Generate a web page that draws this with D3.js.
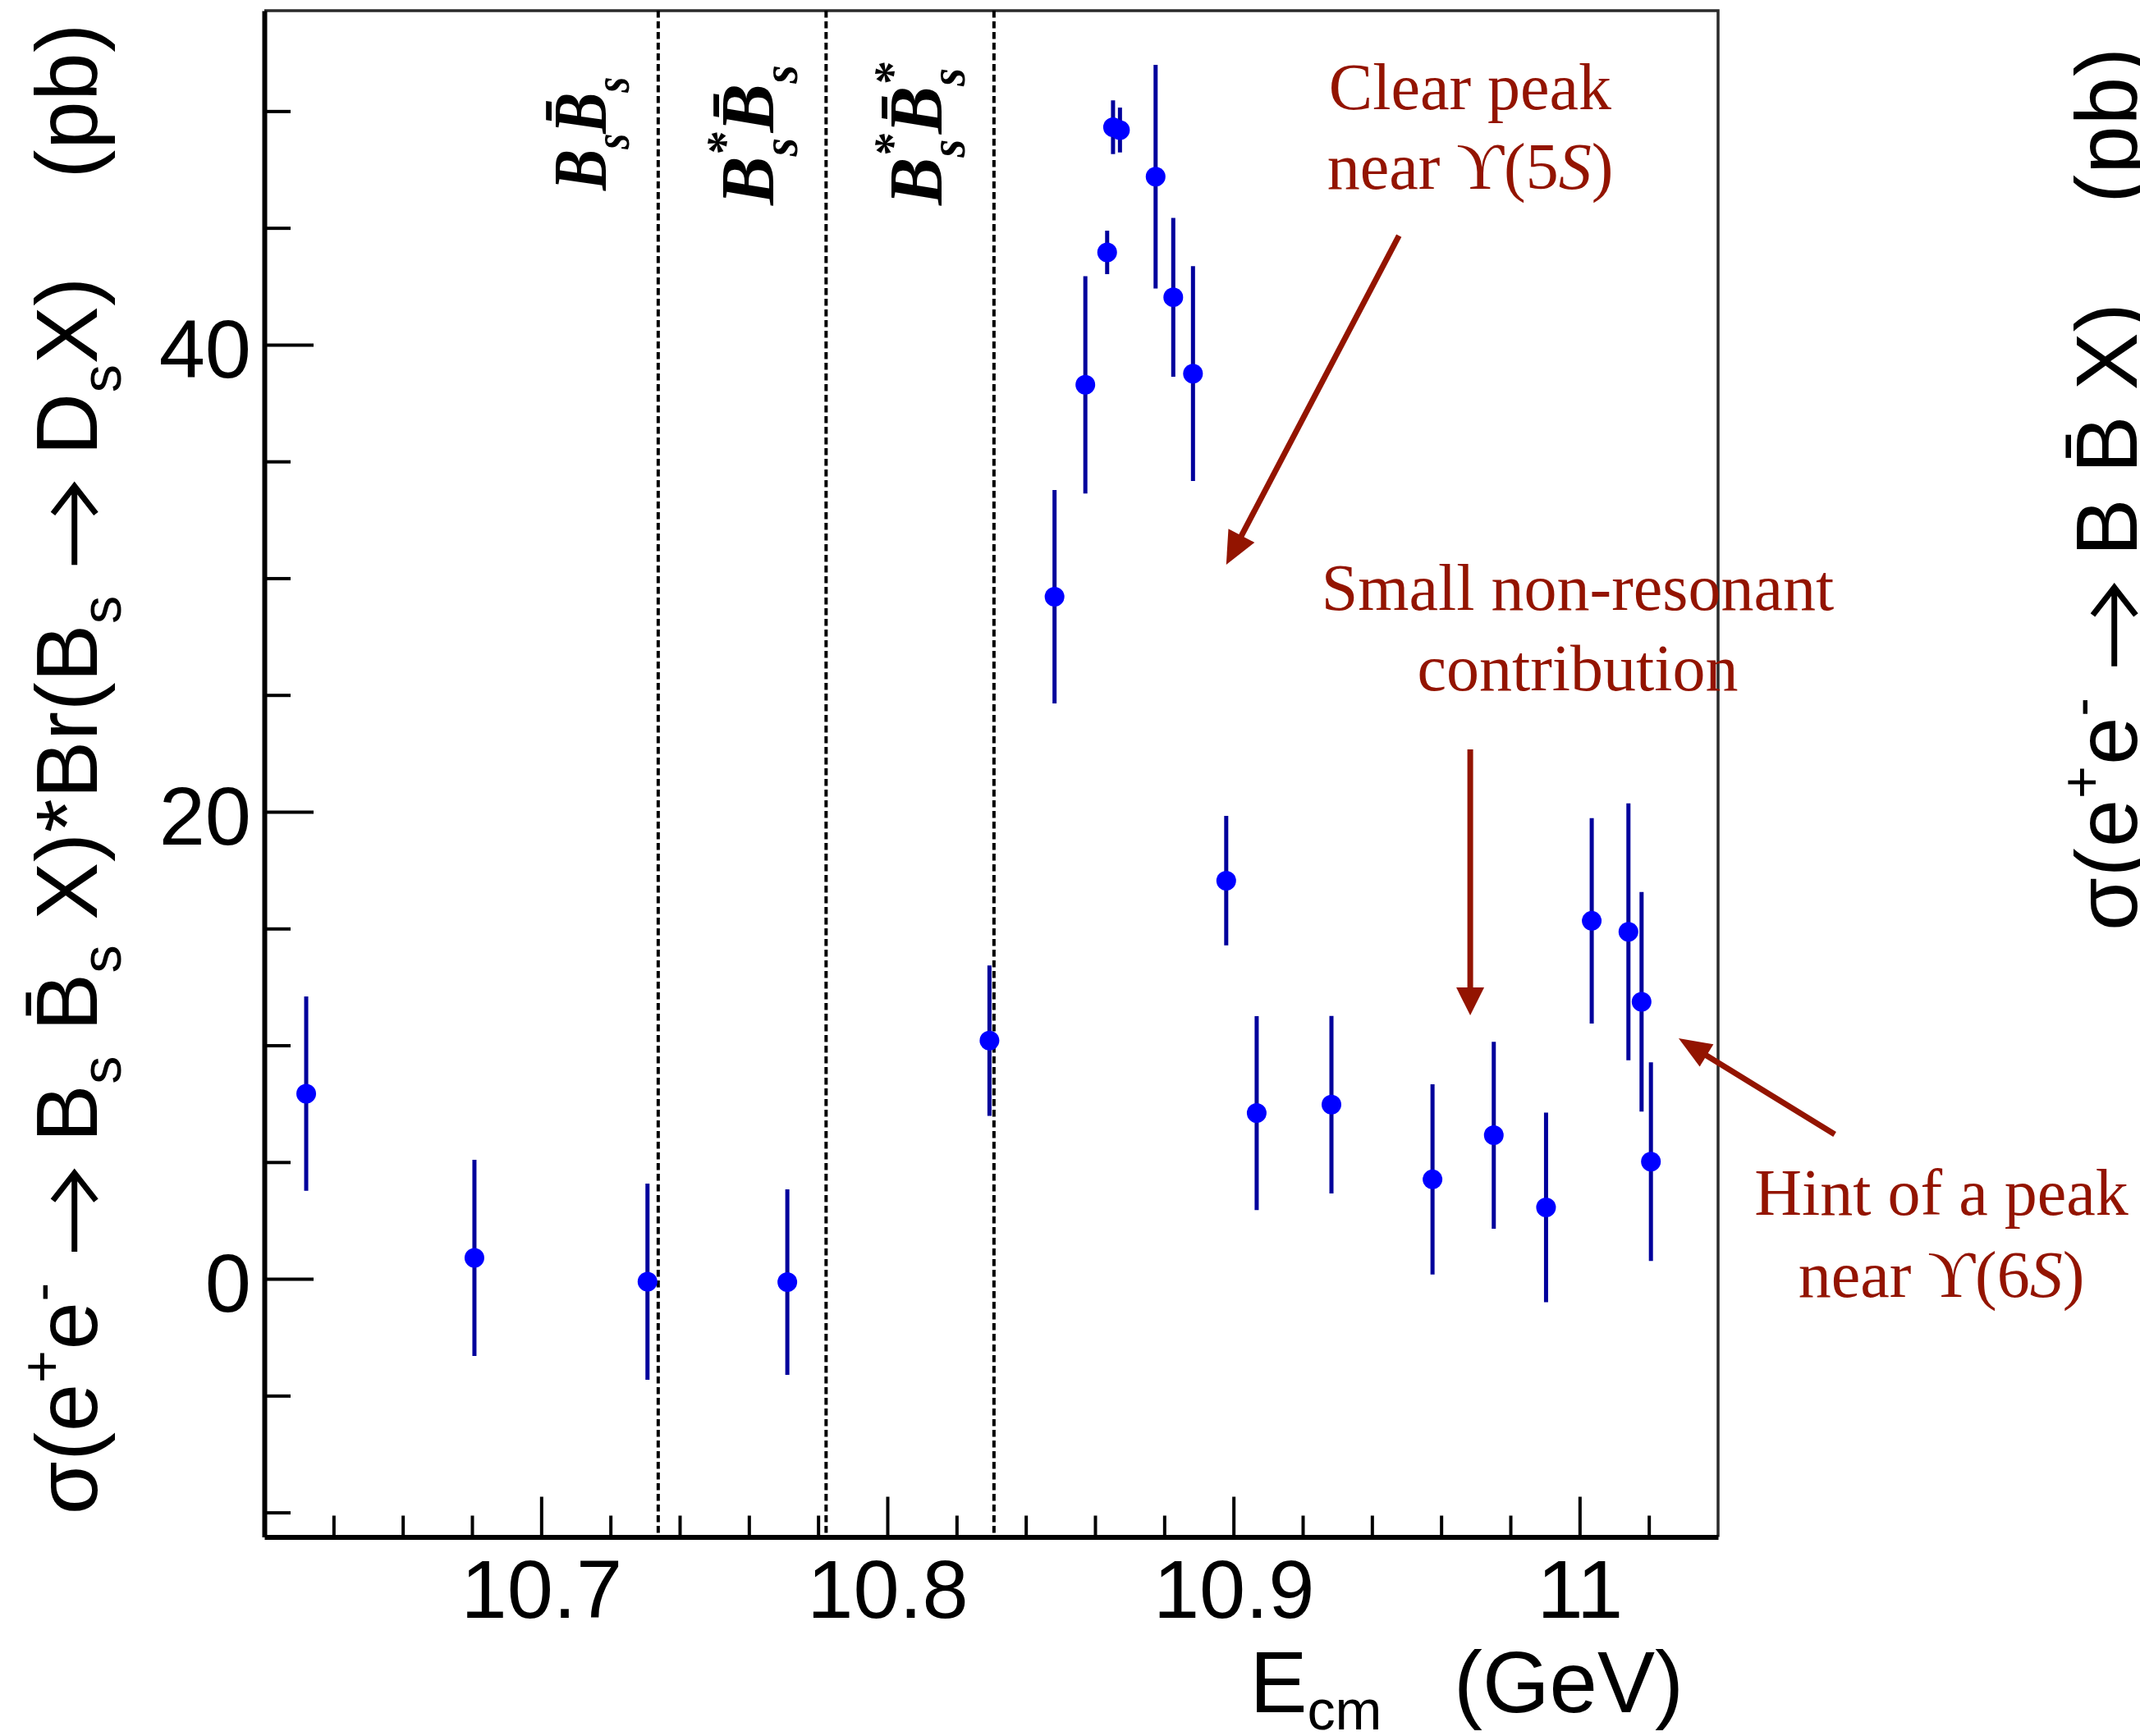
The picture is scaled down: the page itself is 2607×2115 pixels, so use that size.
<!DOCTYPE html>
<html>
<head>
<meta charset="utf-8">
<script src="https://cdn.jsdelivr.net/npm/d3@7"></script>
<style>
  html, body { margin: 0; padding: 0; background: #fff; }
  svg { display: block; }
  text { white-space: pre; }
</style>
</head>
<body>
<svg id="chart" width="2607" height="2115"></svg>
<script>
// Scan points: centre-of-mass energy (GeV), cross section x branching ratio (pb), uncertainty (pb)
const energy = [10.6321, 10.6807, 10.7307, 10.7711, 10.8295, 10.8483, 10.8572, 10.8635, 10.8652, 10.8672,
                10.8775, 10.8826, 10.8883, 10.8979, 10.9067, 10.9283, 10.9575, 10.9752, 10.9903, 11.0035,
                11.0141, 11.0179, 11.0206];
const xsec   = [7.93, 0.90, -0.12, -0.14, 10.20, 29.21, 38.28, 43.95, 49.31, 49.19,
                47.19, 42.03, 38.76, 17.05, 7.10, 7.46, 4.26, 6.15, 3.06, 15.33,
                14.86, 11.86, 5.02];
const xsecErr = [4.16, 4.20, 4.20, 3.97, 3.22, 4.57, 4.65, 0.93, 1.15, 0.96,
                 4.79, 3.40, 4.60, 2.77, 4.15, 3.80, 4.07, 4.00, 4.06, 4.40,
                 5.50, 4.70, 4.25];

// Open-flavour thresholds: 2m(Bs), m(Bs*)+m(Bs), 2m(Bs*)
const thresholds = [10.7338, 10.7823, 10.8308];

// Axis ticks
const xMajorTicks  = [10.7, 10.8, 10.9, 11.0];
const xMajorLabels = ["10.7", "10.8", "10.9", "11"];
const xMinorTicks  = [10.64, 10.66, 10.68, 10.72, 10.74, 10.76, 10.78, 10.82, 10.84, 10.86,
                      10.88, 10.92, 10.94, 10.96, 10.98, 11.02];
const yMajorTicks  = [0, 20, 40];
const yMajorLabels = ["0", "20", "40"];
const yMinorTicks  = [-10, -5, 5, 10, 15, 25, 30, 35, 45, 50];

// ---- layout ----
const W = 2607, H = 2115;
const frame = { left: 322, right: 2093, top: 13, bottom: 1872.5 };
const SANS = "'Liberation Sans', Arial, Helvetica, sans-serif";
const SERIF = "'Liberation Serif', 'Times New Roman', Times, serif";
const NOTE_COLOR = "#931400";

const svg = d3.select("#chart");
svg.append("rect").attr("width", W).attr("height", H).attr("fill", "#fff");

const x = d3.scaleLinear().domain([10.62, 11.04]).range([frame.left, frame.right]);
const y = d3.scaleLinear().domain([-11.05, 54.3]).range([frame.bottom, frame.top]);

// Text with sub/superscripts built from tspans.
// Parts with {arrow: w} leave a gap of width w where a drawn arrow goes; their tspans are returned.
function addRich(textSel, parts, size, o) {
  const sc = o.scale, subShift = o.sub * size, supShift = o.sup * size;
  let cur = 0, prev = null, pendingDx = 0;
  const gaps = [];
  parts.forEach(p => {
    const target = (p.s === "sub" ? subShift : p.s === "sup" ? -supShift : 0);
    const ts = textSel.append("tspan").text(p.arrow ? "\u00a0" : p.t);
    if (target - cur !== 0) ts.attr("dy", target - cur);
    if (p.s) ts.attr("font-size", size * sc);
    if (p.i) ts.attr("font-style", "italic");
    let dx = 0;
    if (p.stack && prev) {
      const wPrev = prev.getComputedTextLength();
      dx = -wPrev;
      const wThis = ts.node().getComputedTextLength();
      pendingDx = Math.max(0, wPrev - wThis);
    } else if (pendingDx) {
      dx = pendingDx;
      pendingDx = 0;
    }
    if (dx) ts.attr("dx", dx);
    if (p.arrow) {
      pendingDx = p.arrow - ts.node().getComputedTextLength();
      gaps.push({ node: ts.node(), w: p.arrow });
    }
    cur = target;
    prev = ts.node();
  });
  return gaps;
}

// Rotated axis title whose arrows are drawn as strokes; stretched to a given length
function rotatedTitle(tx, ty, parts, size, length) {
  const g = svg.append("g").attr("transform", `translate(${tx},${ty}) rotate(-90)`);
  const t = g.append("text")
    .attr("text-anchor", "end")
    .attr("font-family", SANS).attr("font-size", size).attr("fill", "#000");
  const gaps = addRich(t, parts, size, { scale: 0.65, sub: 0.28, sup: 0.42 });
  const bb = t.node().getBBox();
  const n = t.node().getNumberOfChars();
  t.attr("letter-spacing", (length - bb.width) / n);
  gaps.forEach(gp => {
    const s = gp.node.getStartPositionOfChar(0);
    const x0 = s.x + 7, x1 = s.x + gp.w - 7, cy = s.y - 0.26 * size;
    const head = 0.32 * size, half = 0.25 * size;
    g.append("path")
      .attr("d", `M${x0},${cy}H${x1}M${x1 - head},${cy - half}L${x1},${cy}L${x1 - head},${cy + half}`)
      .attr("fill", "none").attr("stroke", "#000").attr("stroke-width", 7)
      .attr("stroke-linejoin", "miter").attr("stroke-miterlimit", 6);
  });
}

// ---- frame: thin top/right edges ----
svg.append("path")
  .attr("d", `M${frame.left},${frame.top}H${frame.right}V${frame.bottom}`)
  .attr("fill", "none").attr("stroke", "#2a2a2a").attr("stroke-width", 3.5);

// ---- threshold lines ----
svg.append("g").selectAll("line").data(thresholds).join("line")
  .attr("x1", d => x(d)).attr("x2", d => x(d))
  .attr("y1", frame.top).attr("y2", frame.bottom)
  .attr("stroke", "#000").attr("stroke-width", 4)
  .attr("stroke-dasharray", "8.5 4.5");

// threshold labels (bold italic, reading upward, left of each line)
const thrLabels = [
  [{t: "B"}, {t: "s", s: "sub"}, {t: "B\u0304"}, {t: "s", s: "sub"}],
  [{t: "B"}, {t: "*", s: "sup"}, {t: "s", s: "sub", stack: true}, {t: "B\u0304"}, {t: "s", s: "sub"}],
  [{t: "B"}, {t: "*", s: "sup"}, {t: "s", s: "sub", stack: true}, {t: "B\u0304"}, {t: "*", s: "sup"}, {t: "s", s: "sub", stack: true}]
];
const thrLabelStart = [232, 250, 250];
const thrLabelSquash = [0.8, 0.95, 0.93];
thresholds.forEach((t, i) => {
  const g = svg.append("g")
    .attr("transform", `translate(${x(t) - 64},${thrLabelStart[i]}) rotate(-90) scale(${thrLabelSquash[i]},1)`);
  const tx = g.append("text")
    .attr("font-family", SERIF).attr("font-size", 94)
    .attr("font-weight", "bold").attr("font-style", "italic")
    .attr("fill", "#000");
  addRich(tx, thrLabels[i], 94, { scale: 0.65, sub: 0.3, sup: 0.42 });
});

// ---- axes ----
const axisStyle = g => {
  g.select(".domain").attr("stroke", "#000").attr("stroke-width", 6);
  g.selectAll(".tick line").attr("stroke", "#000").attr("stroke-width", 4);
  g.selectAll(".tick text").attr("fill", "#000");
};

svg.append("g")
  .attr("transform", `translate(0,${frame.bottom})`)
  .call(d3.axisBottom(x).tickValues(xMinorTicks).tickFormat("").tickSizeInner(-26).tickSizeOuter(0))
  .call(g => g.select(".domain").remove())
  .call(axisStyle);

svg.append("g")
  .attr("transform", `translate(0,${frame.bottom})`)
  .call(d3.axisBottom(x).tickValues(xMajorTicks).tickFormat((d, i) => xMajorLabels[i])
        .tickSizeInner(-49).tickSizeOuter(0).tickPadding(27))
  .call(axisStyle)
  .call(g => g.attr("font-family", SANS).attr("font-size", 101));

svg.append("g")
  .attr("transform", `translate(${frame.left},0)`)
  .call(d3.axisLeft(y).tickValues(yMinorTicks).tickFormat("").tickSizeInner(-32).tickSizeOuter(0))
  .call(g => g.select(".domain").remove())
  .call(axisStyle);

svg.append("g")
  .attr("transform", `translate(${frame.left},0)`)
  .call(d3.axisLeft(y).tickValues(yMajorTicks).tickFormat((d, i) => yMajorLabels[i])
        .tickSizeInner(-60).tickSizeOuter(0).tickPadding(16))
  .call(axisStyle)
  .call(g => g.attr("font-family", SANS).attr("font-size", 101))
  .call(g => g.selectAll(".tick text").attr("dy", "0.39em"));

// ---- axis titles ----
const xTitle = svg.append("text")
  .attr("x", 2051).attr("y", 2086)
  .attr("text-anchor", "end")
  .attr("font-family", SANS).attr("font-size", 105).attr("fill", "#000");
addRich(xTitle, [{t: "E"}, {t: "cm", s: "sub"}, {t: "   (GeV)"}], 105, { scale: 0.65, sub: 0.2, sup: 0.42 });

rotatedTitle(118, 28, [
  {t: "\u03c3(e"}, {t: "+", s: "sup"}, {t: "e"}, {t: "-", s: "sup"},
  {t: " "}, {arrow: 110}, {t: " B"}, {t: "s", s: "sub"}, {t: " B\u0304"}, {t: "s", s: "sub"},
  {t: " X)*Br(B"}, {t: "s", s: "sub"}, {t: " "}, {arrow: 110}, {t: " D"}, {t: "s", s: "sub"},
  {t: "X)    (pb)"}
], 105, 1818);

// y title of the neighbouring panel at the right edge
rotatedTitle(2603, 57, [
  {t: "\u03c3(e"}, {t: "+", s: "sup"}, {t: "e"}, {t: "-", s: "sup"},
  {t: " "}, {arrow: 110}, {t: " B B\u0304 X)    (pb)"}
], 105, 1078);

// ---- data: error bars and markers ----
const pts = energy.map((e, i) => ({ e, v: xsec[i], err: xsecErr[i] }));
const data = svg.append("g");
data.selectAll("line").data(pts).join("line")
  .attr("x1", d => x(d.e)).attr("x2", d => x(d.e))
  .attr("y1", d => y(d.v - d.err)).attr("y2", d => y(d.v + d.err))
  .attr("stroke", "#00009c").attr("stroke-width", 5);
data.selectAll("circle").data(pts).join("circle")
  .attr("cx", d => x(d.e)).attr("cy", d => y(d.v))
  .attr("r", 12).attr("fill", "#0000ff");

// ---- annotations ----
const notes = [
  { cx: 1791, ys: [133, 230],
    lines: [[{t: "Clear peak"}], [{t: "near "}, {t: "\u03d2(5"}, {t: "S", i: true}, {t: ")"}]] },
  { cx: 1922, ys: [743, 841],
    lines: [[{t: "Small non-resonant"}], [{t: "contribution"}]] },
  { cx: 2365, ys: [1480, 1580],
    lines: [[{t: "Hint of a peak"}], [{t: "near "}, {t: "\u03d2(6"}, {t: "S", i: true}, {t: ")"}]] }
];
notes.forEach(n => {
  n.lines.forEach((ln, j) => {
    const t = svg.append("text")
      .attr("x", n.cx).attr("y", n.ys[j])
      .attr("text-anchor", "middle")
      .attr("font-family", SERIF).attr("font-size", 80).attr("fill", NOTE_COLOR);
    addRich(t, ln, 80, { scale: 0.7, sub: 0.3, sup: 0.4 });
  });
});

// arrows, defined in data coordinates: [from, to]
const arrows = [
  { from: [10.9478, 44.67], to: [10.8979, 30.58], len: 40, half: 18 },
  { from: [10.9684, 22.67], to: [10.9684, 11.28], len: 34, half: 17 },
  { from: [11.0737, 6.19],  to: [11.0286, 10.30], len: 40, half: 16 }
];
arrows.forEach(a => {
  const x0 = x(a.from[0]), y0 = y(a.from[1]);
  const x1 = x(a.to[0]), y1 = y(a.to[1]);
  const dx = x1 - x0, dy = y1 - y0, L = Math.hypot(dx, dy);
  const ux = dx / L, uy = dy / L, px = -uy, py = ux;
  const bx = x1 - ux * a.len, by = y1 - uy * a.len;
  svg.append("line")
    .attr("x1", x0).attr("y1", y0).attr("x2", bx + ux * 2).attr("y2", by + uy * 2)
    .attr("stroke", NOTE_COLOR).attr("stroke-width", 7);
  svg.append("path")
    .attr("d", `M${x1},${y1}L${bx + px * a.half},${by + py * a.half}L${bx - px * a.half},${by - py * a.half}Z`)
    .attr("fill", NOTE_COLOR);
});
</script>
</body>
</html>
